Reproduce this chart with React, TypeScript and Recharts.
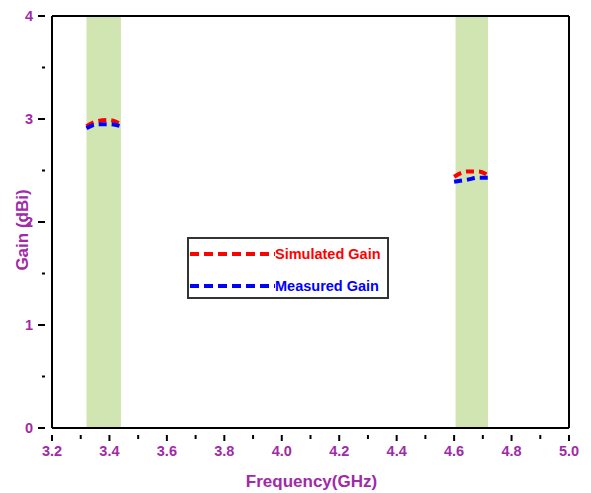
import {
  ComposedChart,
  Line,
  XAxis,
  YAxis,
  ReferenceArea,
  ReferenceLine,
} from 'recharts';

// Gain samples across the two operating bands (GHz / dBi)
const band1Freq = [3.32, 3.36, 3.4, 3.44];
const band1Sim = [2.93, 2.98, 2.99, 2.95];
const band1Meas = [2.91, 2.95, 2.95, 2.93];

const band2Freq = [4.6, 4.645, 4.685, 4.72];
const band2Sim = [2.44, 2.49, 2.49, 2.45];
const band2Meas = [2.39, 2.41, 2.43, 2.43];

const bandEdges = [
  [3.32, 3.44],
  [4.605, 4.718],
];

const xTicks = [3.2, 3.3, 3.4, 3.5, 3.6, 3.7, 3.8, 3.9, 4.0, 4.1, 4.2, 4.3, 4.4, 4.5, 4.6, 4.7, 4.8, 4.9, 5.0];
const yTicks = [0, 0.5, 1, 1.5, 2, 2.5, 3, 3.5, 4];

const PURPLE = '#a02aa8';
const BAND = '#d0e5b1';
const FONT = '"Liberation Sans", Arial, sans-serif';

const series = [
  { name: 'Simulated Gain', color: '#ff0000', freq: band1Freq, b1: band1Sim, freq2: band2Freq, b2: band2Sim },
  { name: 'Measured Gain', color: '#0000ff', freq: band1Freq, b1: band1Meas, freq2: band2Freq, b2: band2Meas },
];

const toPoints = (xs: number[], ys: number[]) => xs.map((f, i) => ({ f, g: ys[i] }));

function XTick({ x, y, payload }: any) {
  const v = payload.value as number;
  const major = Math.round(v * 10) % 2 === 0;
  return (
    <g>
      <line x1={x} x2={x} y1={y - 1} y2={y + (major ? 5 : 3)} stroke="#000" strokeWidth={2} />
      {major && (
        <text x={x} y={y + 20} textAnchor="middle" fill={PURPLE} fontSize={14.5} fontWeight={700} fontFamily={FONT}>
          {v.toFixed(1)}
        </text>
      )}
    </g>
  );
}

function YTick({ x, y, payload }: any) {
  const v = payload.value as number;
  const major = Number.isInteger(v);
  return (
    <g>
      <line x1={x - (major ? 6 : 2)} x2={x + 1} y1={y} y2={y} stroke="#000" strokeWidth={2} />
      {major && (
        <text x={x - 11} y={y + 5} textAnchor="end" fill={PURPLE} fontSize={14.5} fontWeight={700} fontFamily={FONT}>
          {v}
        </text>
      )}
    </g>
  );
}

function XLabel({ viewBox }: any) {
  const cx = viewBox.x + viewBox.width / 2 + 1;
  return (
    <text x={cx} y={487} textAnchor="middle" fill={PURPLE} fontSize={17} fontWeight={700} fontFamily={FONT}>
      Frequency(GHz)
    </text>
  );
}

function YLabel({ viewBox }: any) {
  const cy = viewBox.y + viewBox.height / 2 + 8;
  return (
    <text
      x={28}
      y={cy}
      transform={`rotate(-90 28 ${cy})`}
      textAnchor="middle"
      fill={PURPLE}
      fontSize={17}
      fontWeight={700}
      fontFamily={FONT}
    >
      Gain (dBi)
    </text>
  );
}

// boxed legend sitting inside the plot area
function GainLegend() {
  return (
    <div
      style={{
        position: 'absolute',
        left: 187,
        top: 237,
        width: 202,
        height: 62,
        border: '2px solid #333',
        boxSizing: 'border-box',
        background: '#fff',
        fontFamily: FONT,
        fontWeight: 700,
        fontSize: 14.5,
      }}
    >
      {series.map((s, i) => (
        <div key={s.name} style={{ display: 'flex', alignItems: 'center', height: 22, marginTop: i === 0 ? 4 : 10 }}>
          <svg width={85} height={10} style={{ marginLeft: 1 }}>
            <line x1={0} x2={85} y1={5} y2={5} stroke={s.color} strokeWidth={4} strokeDasharray="9 5" />
          </svg>
          <span style={{ color: s.color }}>{s.name}</span>
        </div>
      ))}
    </div>
  );
}

export default function App() {
  return (
    <div style={{ position: 'absolute', left: 0, top: 0, width: 591, height: 493, background: '#fff' }}>
      <ComposedChart width={591} height={493} margin={{ top: 16, right: 22, bottom: 0, left: 0 }}>
        <XAxis
          type="number"
          dataKey="f"
          domain={[3.2, 5.0]}
          ticks={xTicks}
          interval={0}
          tick={<XTick />}
          tickLine={false}
          axisLine={{ stroke: '#000', strokeWidth: 2 }}
          height={65}
          allowDataOverflow
          label={<XLabel />}
        />
        <YAxis
          type="number"
          dataKey="g"
          domain={[0, 4]}
          ticks={yTicks}
          interval={0}
          tick={<YTick />}
          tickLine={false}
          axisLine={{ stroke: '#000', strokeWidth: 2 }}
          width={52}
          allowDataOverflow
          label={<YLabel />}
        />
        {bandEdges.map(([a, b]) => (
          <ReferenceArea key={a} x1={a} x2={b} y1={0} y2={4} fill={BAND} fillOpacity={1} stroke="none" />
        ))}
        {/* closing frame: top and right edges */}
        <ReferenceLine y={4} stroke="#000" strokeWidth={2} />
        <ReferenceLine x={5.0} stroke="#000" strokeWidth={2} />
        {series.map((s) => (
          <Line
            key={s.name + '1'}
            data={toPoints(s.freq, s.b1)}
            dataKey="g"
            type="monotone"
            stroke={s.color}
            strokeWidth={4}
            strokeDasharray="8 5"
            dot={false}
            name={s.name}
            isAnimationActive={false}
          />
        ))}
        {series.map((s) => (
          <Line
            key={s.name + '2'}
            data={toPoints(s.freq2, s.b2)}
            dataKey="g"
            type="monotone"
            stroke={s.color}
            strokeWidth={4}
            strokeDasharray="8 5"
            dot={false}
            isAnimationActive={false}
          />
        ))}
      </ComposedChart>
      <GainLegend />
    </div>
  );
}
